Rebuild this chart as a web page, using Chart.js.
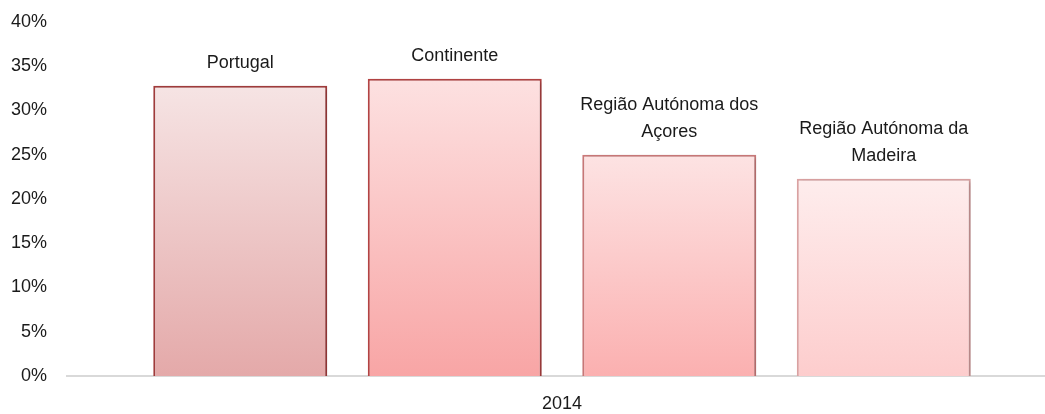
<!DOCTYPE html>
<html lang="pt">
<head>
    <meta charset="UTF-8">
    <title>Regiões 2014</title>
    <script src="https://cdn.jsdelivr.net/npm/chart.js@4.4.0/dist/chart.umd.min.js"></script>
    <style>
        html, body { margin: 0; padding: 0; background: #fff; overflow: hidden; }
        .wrap { width: 1057px; height: 414px; position: relative; }
    </style>
</head>
<body>
    <div class="wrap"><canvas id="grafico"></canvas></div>
    <script>
        // dados
        const anos = ['2014'];
        const regioes = ['Portugal', 'Continente', 'Região Autónoma dos Açores', 'Região Autónoma da Madeira'];
        const rotulos = [['Portugal'], ['Continente'], ['Região Autónoma dos', 'Açores'], ['Região Autónoma da', 'Madeira']];
        const valores = [32.8, 33.6, 25.0, 22.3];
        const ticksY = [0, 5, 10, 15, 20, 25, 30, 35, 40];

        // cores (topo, base, contorno)
        const corTopo = ['#f6e4e4', '#fde1e1', '#fde3e3', '#feeded'];
        const corBase = ['#e4a9a9', '#f8a5a5', '#fbb0b0', '#fdcdcd'];
        const corBorda = ['#a33c3c', '#b54444', '#cc7a7a', '#dca3a3'];

        const fonte = '"Liberation Sans", Arial, sans-serif';

        function gradiente(ctx, i) {
            const chart = ctx.chart;
            const area = chart.chartArea;
            if (!area) return corBase[i];
            const y = chart.scales.y;
            const topo = y.getPixelForValue(valores[i]);
            const base = y.getPixelForValue(0);
            const g = chart.ctx.createLinearGradient(0, topo, 0, base);
            g.addColorStop(0, corTopo[i]);
            g.addColorStop(1, corBase[i]);
            return g;
        }

        const rotulosPlugin = {
            id: 'rotulos',
            beforeDatasetsDraw(chart) {
                const c = chart.ctx;
                c.save();
                c.shadowColor = 'rgba(0,0,0,0.22)';
                c.shadowBlur = 4;
                c.shadowOffsetX = 2;
                c.shadowOffsetY = 1;
            },
            afterDatasetsDraw(chart) {
                const c = chart.ctx;
                c.restore();
                c.save();
                c.font = '18px ' + fonte;
                c.fillStyle = '#1a1a1a';
                c.textAlign = 'center';
                c.textBaseline = 'middle';
                chart.data.datasets.forEach((ds, i) => {
                    const bar = chart.getDatasetMeta(i).data[0];
                    const linhas = rotulos[i];
                    linhas.forEach((txt, k) => {
                        const yy = bar.y - 23 - (linhas.length - 1 - k) * 27;
                        c.fillText(txt, bar.x, yy);
                    });
                });
                c.restore();
            }
        };

        const ctx = document.getElementById('grafico').getContext('2d');
        new Chart(ctx, {
            type: 'bar',
            data: {
                labels: anos,
                datasets: regioes.map((nome, i) => ({
                    label: nome,
                    data: [valores[i]],
                    backgroundColor: (c) => gradiente(c, i),
                    borderColor: corBorda[i],
                    borderWidth: 2,
                    categoryPercentage: 0.8667,
                    barPercentage: 0.811
                }))
            },
            options: {
                responsive: true,
                maintainAspectRatio: false,
                animation: false,
                layout: { padding: { top: 22, right: 0, left: 0, bottom: 0 } },
                plugins: {
                    legend: { display: false },
                    tooltip: { enabled: false }
                },
                scales: {
                    x: {
                        afterFit(axis) {
                            axis.height = 38;
                            axis.paddingLeft = 0;
                            axis.paddingRight = 0;
                        },
                        grid: { display: false, drawTicks: false },
                        border: { display: true, color: '#d9d9d9', width: 2 },
                        ticks: { color: '#1a1a1a', font: { family: fonte, size: 18 }, padding: 17 }
                    },
                    y: {
                        min: 0,
                        max: 40,
                        afterBuildTicks(axis) {
                            axis.ticks = ticksY.map(v => ({ value: v }));
                        },
                        afterFit(axis) {
                            axis.width = 67;
                            axis.paddingTop = 0;
                            axis.paddingBottom = 0;
                        },
                        grid: { display: false, drawTicks: false },
                        border: { display: false },
                        ticks: {
                            color: '#1a1a1a',
                            font: { family: fonte, size: 18 },
                            padding: 20,
                            callback: v => v + '%'
                        }
                    }
                }
            },
            plugins: [rotulosPlugin]
        });
    </script>
</body>
</html>
